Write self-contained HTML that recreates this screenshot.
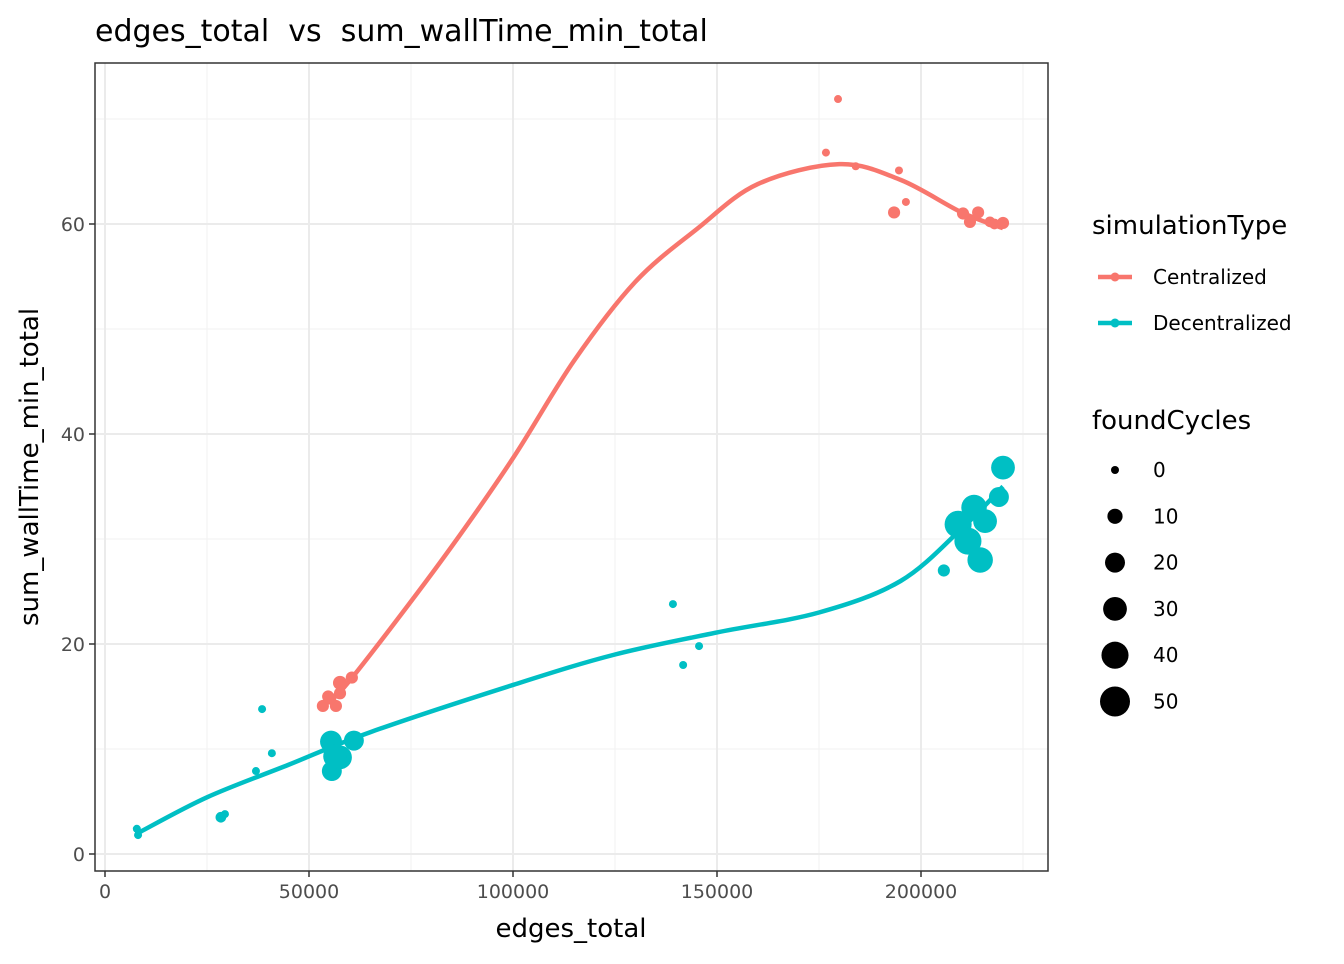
<!DOCTYPE html>
<html><head><meta charset="utf-8"><style>
body{margin:0;background:#fff;font-family:"DejaVu Sans","Liberation Sans",sans-serif}
text{white-space:pre}
</style></head><body>
<svg id="c" width="1344" height="960" xmlns="http://www.w3.org/2000/svg" font-family="DejaVu Sans, Liberation Sans, sans-serif">
<text x="95" y="41" font-size="30" fill="#000" xml:space="preserve">edges_total  vs  sum_wallTime_min_total</text>
<g id="grid"></g><g id="lines"></g><g id="pts"></g><g id="axes"></g><g id="legend"></g>
</svg>
<script>
const xTicks=[0,50000,100000,150000,200000];
const yTicks=[0,20,40,60];
const cenX=[179660,176700,184000,194600,196300,193400,210300,214000,212000,216900,220100,218000,53400,54700,56600,57600,57600,60500,55200];
const cenY=[71.9,66.8,65.5,65.1,62.1,61.1,61.0,61.1,60.2,60.2,60.1,60.0,14.1,15.0,14.1,16.3,15.3,16.8,14.8];
const cenS=[0,0,0,0,0,5,5,5,5,3,5,3,5,5,5,8,5,5,5];
const decX=[7800,8100,28400,29400,37000,38500,40900,139200,141700,145600,205600,220100,219100,209100,213000,215700,211500,214500,55400,57600,55600,61000,56400];
const decY=[2.4,1.8,3.5,3.8,7.9,13.8,9.6,23.8,18.0,19.8,27.0,36.8,34.0,31.4,33.0,31.7,29.8,28.0,10.7,9.2,7.9,10.8,9.3];
const decS=[0,0,3,0,0,0,0,0,0,0,5,30,20,40,35,30,40,35,25,30,20,20,30];
const cenFitX=[53400,58000,70000,85000,100000,115000,130000,145000,160000,180000,195000,210000,220100];
const cenFitY=[14.3,15.6,21.5,29.3,37.7,47.0,54.5,59.5,63.8,65.7,64.2,61.1,59.6];
const decFitX=[8100,25000,45000,65000,100000,125000,150000,175000,195000,210000,220100];
const decFitY=[2.0,5.4,8.5,11.6,16.1,19.0,21.1,23.0,26.0,31.0,35.0];
const sizeLeg=[0,10,20,30,40,50];
const L=95,R=1048,T=63,B=871;
const X=v=>105+v/50000*204, Y=v=>854-v/20*210, rad=s=>Math.sqrt(16+4.18*s);
const ns="http://www.w3.org/2000/svg";
function mk(p,tag,a){const e=document.createElementNS(ns,tag);for(const k in a)e.setAttribute(k,a[k]);p.appendChild(e);return e;}
const g=document.getElementById('grid'),ln=document.getElementById('lines'),pt=document.getElementById('pts'),ax=document.getElementById('axes'),lg=document.getElementById('legend');
mk(g,'rect',{x:L,y:T,width:R-L,height:B-T,fill:'#fff'});
for(let i=0;i<xTicks.length;i++){const m=X(xTicks[i]+25000);if(m<R){const l=mk(g,'line',{x1:m,x2:m,y1:T,y2:B,stroke:'#f2f2f2','stroke-width':1});}}
for(let i=0;i<yTicks.length;i++){const m=Y(yTicks[i]+10);if(m>T){const l=mk(g,'line',{x1:L,x2:R,y1:m,y2:m,stroke:'#f2f2f2','stroke-width':1});}}
xTicks.forEach(v=>{const x=X(v);const l=mk(g,'line',{x1:x,x2:x,y1:T,y2:B,stroke:'#ebebeb','stroke-width':2});
mk(ax,'line',{x1:x,x2:x,y1:B,y2:B+6,stroke:'#333','stroke-width':1.5});
const t=mk(ax,'text',{x:x,y:B+27,'font-size':19,fill:'#4d4d4d','text-anchor':'middle'});t.textContent=v;});
yTicks.forEach(v=>{const y=Y(v);const l=mk(g,'line',{x1:L,x2:R,y1:y,y2:y,stroke:'#ebebeb','stroke-width':2});
mk(ax,'line',{x1:L-6,x2:L,y1:y,y2:y,stroke:'#333','stroke-width':1.5});
const t=mk(ax,'text',{x:L-10,y:y+7,'font-size':19,fill:'#4d4d4d','text-anchor':'end'});t.textContent=v;});
const fr=mk(ax,'rect',{x:L,y:T,width:R-L,height:B-T,fill:'none',stroke:'#333','stroke-width':1.5});
let t=mk(ax,'text',{x:571,y:937,'font-size':26,'text-anchor':'middle'});t.textContent='edges_total';
t=mk(ax,'text',{x:0,y:0,'font-size':26,'text-anchor':'middle',transform:'translate(38,467) rotate(-90)'});t.textContent='sum_wallTime_min_total';
function curve(xs,ys,col,name){const P=xs.map((x,i)=>[X(x),Y(ys[i])]);let d='M'+P[0];for(let i=0;i<P.length-1;i++){const p0=P[Math.max(i-1,0)],p1=P[i],p2=P[i+1],p3=P[Math.min(i+2,P.length-1)];d+=`C${p1[0]+(p2[0]-p0[0])/6},${p1[1]+(p2[1]-p0[1])/6} ${p2[0]-(p3[0]-p1[0])/6},${p2[1]-(p3[1]-p1[1])/6} ${p2[0]},${p2[1]}`;}
const e=mk(ln,'path',{d:d,fill:'none',stroke:col,'stroke-width':4.5});}
function pts(xs,ys,ss,col,name){xs.forEach((x,i)=>{const c=mk(pt,'circle',{cx:X(x),cy:Y(ys[i]),r:rad(ss[i]),fill:col});});}
pts(cenX,cenY,cenS,'#F8766D','centralized-point');
pts(decX,decY,decS,'#00BFC4','decentralized-point');
curve(cenFitX,cenFitY,'#F8766D','centralized-smooth-line');
curve(decFitX,decFitY,'#00BFC4','decentralized-smooth-line');
t=mk(lg,'text',{x:1092,y:234,'font-size':26});t.textContent='simulationType';
[['Centralized','#F8766D',277],['Decentralized','#00BFC4',323]].forEach(([n,c,y])=>{mk(lg,'line',{x1:1098,x2:1132,y1:y,y2:y,stroke:c,'stroke-width':4.5});mk(lg,'circle',{cx:1115,cy:y,r:4.5,fill:c});
const tt=mk(lg,'text',{x:1153,y:y+7,'font-size':20});tt.textContent=n;});
t=mk(lg,'text',{x:1092,y:429,'font-size':26});t.textContent='foundCycles';
sizeLeg.forEach((s,i)=>{const y=470+i*46.3;mk(lg,'circle',{cx:1115,cy:y,r:rad(s),fill:'#000'});const tt=mk(lg,'text',{x:1153,y:y+7,'font-size':20});tt.textContent=s;});
</script>
</body></html>
